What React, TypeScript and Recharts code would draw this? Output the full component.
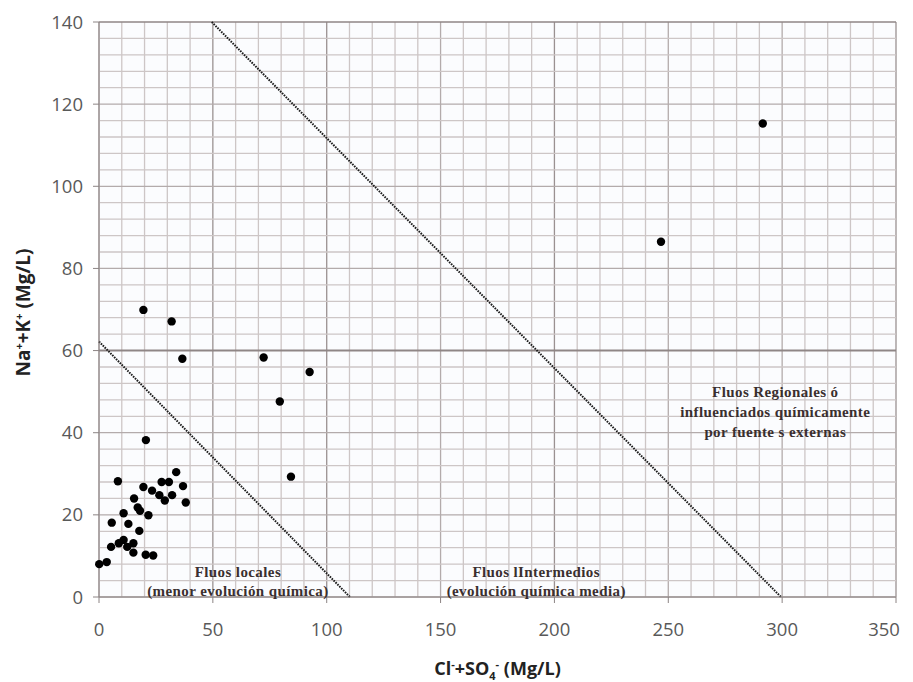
import React from 'react';
import { ScatterChart, Scatter, XAxis, YAxis, ReferenceLine, ReferenceDot } from 'recharts';

// Cl- + SO4- (Mg/L)
const clSo4 = [
  0.1, 3.4, 5.3, 5.6, 8.3, 8.7, 10.8, 10.8, 12.4, 12.9, 15.1, 15.1, 15.4, 17.0, 18.0,
  17.7, 20.6, 19.5, 20.5, 23.8, 21.7, 23.3, 26.5, 27.5, 28.9, 30.7, 32.1, 33.9, 36.9, 38.1,
  19.5, 31.9, 36.6, 72.3, 92.5, 79.4, 84.3, 291.5, 246.8,
];
// Na+ + K+ (Mg/L)
const naK = [
  8.0, 8.5, 12.2, 18.1, 28.2, 13.1, 13.9, 20.4, 12.2, 17.8, 13.1, 10.8, 24.0, 21.8, 21.0,
  16.1, 38.2, 26.8, 10.3, 10.1, 19.9, 25.9, 24.8, 28.0, 23.5, 28.0, 24.8, 30.4, 27.0, 23.0,
  69.9, 67.1, 58.0, 58.3, 54.8, 47.6, 29.3, 115.3, 86.5,
];

const xTicks = [0, 50, 100, 150, 200, 250, 300, 350];
const yTicks = [0, 20, 40, 60, 80, 100, 120, 140];
const xGrid = [
  0, 10, 20, 30, 40, 50, 60, 70, 80, 90, 100, 110, 120, 130, 140, 150, 160, 170,
  180, 190, 200, 210, 220, 230, 240, 250, 260, 270, 280, 290, 300, 310, 320, 330, 340, 350,
];
const yGrid = [
  0, 4, 8, 12, 16, 20, 24, 28, 32, 36, 40, 44, 48, 52, 56, 60, 64, 68,
  72, 76, 80, 84, 88, 92, 96, 100, 104, 108, 112, 116, 120, 124, 128, 132, 136, 140,
];
const xStrong = [50, 100, 200, 350];
const yStrong = [60, 140];

// limit lines between flow types
const localLimit = [{ x: 0, y: 62.2 }, { x: 110.2, y: 0 }];
const regionalLimit = [{ x: 49.5, y: 140 }, { x: 299.5, y: 0 }];

const notes = [
  { x: 61, y: 6.2, lines: ['Fluos locales', '(menor evolución química)'] },
  { x: 192, y: 6.2, lines: ['Fluos lIntermedios', '(evolución química media)'] },
  { x: 297, y: 49.8, lines: ['Fluos Regionales ó', 'influenciados químicamente', 'por fuente s externas'] },
];

const points = clSo4.map((x, i) => ({ x, y: naK[i] }));

if (typeof document !== 'undefined') {
  document.body.style.margin = '0';
  document.body.style.overflow = 'hidden';
}

const tickStyle = { fill: '#595959', fontSize: 18.5, fontFamily: 'Open Sans' };

const XTick = (props: any) => {
  const { x, y, payload } = props;
  const last = payload.value === 350;
  return (
    <text x={last ? x - 12 : x} y={y} dy="0.71em" textAnchor="middle" {...tickStyle}>
      {payload.value}
    </text>
  );
};

const XTitle = (props: any) => {
  const { viewBox } = props;
  const cx = viewBox.x + viewBox.width / 2;
  return (
    <text x={cx} y={viewBox.y + 78} textAnchor="middle" fontFamily="Open Sans" fontWeight="bold" fontSize={18} fill="#222">
      <tspan>Cl</tspan>
      <tspan dy={-7} fontSize={11}>-</tspan>
      <tspan dy={7}>+SO</tspan>
      <tspan dy={5} fontSize={11}>4</tspan>
      <tspan dy={-12} fontSize={11}>-</tspan>
      <tspan dy={7}> (Mg/L)</tspan>
    </text>
  );
};

const YTitle = (props: any) => {
  const { viewBox } = props;
  const cy = viewBox.y + viewBox.height / 2 + 3;
  const cx = 30;
  return (
    <text x={cx} y={cy} textAnchor="middle" transform={`rotate(-90 ${cx} ${cy})`} fontFamily="Open Sans" fontWeight="bold" fontSize={19} fill="#222">
      <tspan>Na</tspan>
      <tspan dy={-7} fontSize={11}>+</tspan>
      <tspan dy={7}>+K</tspan>
      <tspan dy={-7} fontSize={11}>+</tspan>
      <tspan dy={7}> (Mg/L)</tspan>
    </text>
  );
};

const noteLabel = (lines: string[], gap: number) => (props: any) => {
  const { viewBox } = props;
  const cx = viewBox.x + (viewBox.width || 0) / 2;
  const cy = viewBox.y + (viewBox.height || 0) / 2;
  return (
    <text x={cx} y={cy} textAnchor="middle" fontFamily="Liberation Serif" fontWeight="bold" fontSize={15} letterSpacing={0.4} fill="#3a2f2f">
      {lines.map((l, i) => (
        <tspan key={i} x={cx} y={cy + i * gap} dominantBaseline="central">{l}</tspan>
      ))}
    </text>
  );
};

const Dot = (props: any) => <circle cx={props.cx} cy={props.cy} r={4.2} fill="#000" />;

export default function App() {
  return (
    <ScatterChart width={913} height={682} margin={{ top: 22, right: 17, left: 0, bottom: 0 }}>
      <rect x={99} y={22} width={797} height={575} fill="#fbfcfe" />
      <XAxis
        type="number"
        dataKey="x"
        domain={[0, 350]}
        ticks={xTicks}
        height={85}
        tick={XTick}
        tickSize={6}
        tickMargin={20}
        axisLine={{ stroke: '#8c8484' }}
        tickLine={{ stroke: '#8c8484' }}
        label={{ content: XTitle }}
      />
      <YAxis
        type="number"
        dataKey="y"
        domain={[0, 140]}
        ticks={yTicks}
        width={99}
        tick={tickStyle}
        tickSize={6}
        tickMargin={10}
        axisLine={{ stroke: '#8c8484' }}
        tickLine={{ stroke: '#8c8484' }}
        label={{ content: YTitle }}
      />
      {xGrid.map((v) => (
        <ReferenceLine key={'x' + v} x={v} stroke={xStrong.includes(v) ? '#9a9191' : v % 50 === 0 ? '#b3abab' : '#cdc6c6'} strokeWidth={1.3} />
      ))}
      {yGrid.map((v) => (
        <ReferenceLine key={'y' + v} y={v} stroke={yStrong.includes(v) ? '#8f8686' : v % 20 === 0 ? '#b3abab' : '#cdc6c6'} strokeWidth={v === 60 ? 2 : 1.3} />
      ))}
      <ReferenceLine segment={localLimit} stroke="#1c1c1c" strokeWidth={2} strokeDasharray="1.6 1.1" />
      <ReferenceLine segment={regionalLimit} stroke="#1c1c1c" strokeWidth={2} strokeDasharray="1.6 1.1" />
      {notes.map((n, i) => (
        <ReferenceDot key={i} x={n.x} y={n.y} r={0} fill="none" stroke="none" label={{ content: noteLabel(n.lines, i === 2 ? 20 : 19) }} />
      ))}
      <Scatter data={points} fill="#000" shape={Dot} isAnimationActive={false} />
    </ScatterChart>
  );
}
